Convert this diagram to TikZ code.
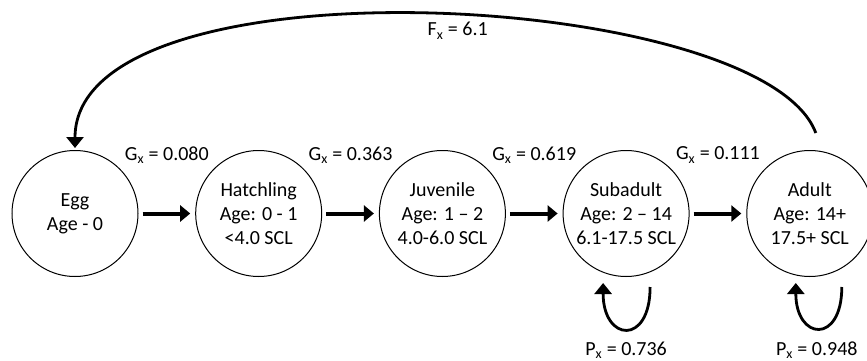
\documentclass[tikz,border=0pt]{standalone}
\usepackage{fontspec}
\setmainfont{Carlito}
\usetikzlibrary{arrows.meta, positioning, calc}

\begin{document}
\begin{tikzpicture}[
    node distance=56.7pt,
    stage/.style={circle, draw=black, line width=1pt, minimum size=126pt, inner sep=0pt, align=center, font=\fontsize{20}{24}\selectfont},
    rate/.style={font=\fontsize{20}{24}\selectfont, inner sep=2pt},
    growarrow/.style={-{Triangle[length=10pt, width=16pt]}, line width=4pt, shorten <=4pt, shorten >=5pt},
    looparrow/.style={-{Triangle[length=11pt, width=17pt]}, line width=2.8pt},
  ]
  \useasboundingbox (0,0) rectangle (867pt,-361pt);

  % life stages
  \node[stage] (egg) at (75pt,-213.5pt) {Egg\\Age - 0};
  \node[stage, right=of egg] (hatch) {Hatchling\\Age: 0 - 1\\<4.0 SCL};
  \node[stage, right=of hatch] (juv) {Juvenile\\Age: 1 – 2\\4.0-6.0 SCL};
  \node[stage, right=of juv] (sub) {Subadult\\Age: 2 – 14\\6.1-17.5 SCL};
  \node[stage, right=of sub] (adult) {Adult\\Age: 14+\\17.5+ SCL};

  % growth
  \draw[growarrow] (egg.east) -- (hatch.west);
  \draw[growarrow] (hatch.east) -- (juv.west);
  \draw[growarrow] (juv.east) -- (sub.west);
  \draw[growarrow] (sub.east) -- (adult.west);

  \node[rate] (g1) at ($(egg)!0.5!(hatch)+(0,58.5pt)$) {G\textsubscript{x} = 0.080};
  \node[rate] (g2) at ($(hatch)!0.5!(juv)+(0,58.5pt)$) {G\textsubscript{x} = 0.363};
  \node[rate] (g3) at ($(juv)!0.5!(sub)+(0,58.5pt)$) {G\textsubscript{x} = 0.619};
  \node[rate] (g4) at ($(sub)!0.5!(adult)+(0,58.5pt)$) {G\textsubscript{x} = 0.111};

  % fecundity
  \draw[looparrow] ([xshift=6pt,yshift=17pt]adult.north) .. controls ($(adult.north)+(-47pt,160pt)$) and ($(egg.north)+(0,196pt)$) .. node[rate, pos=0.47, below=4pt] (fx) {F\textsubscript{x} = 6.1} ([yshift=2pt]egg.north);

  % persistence
  \draw[looparrow] ([xshift=24pt,yshift=-10pt]sub.south) to[out=-90, in=-90, looseness=3.2] ([xshift=-23pt,yshift=-6pt]sub.south);
  \draw[looparrow] ([xshift=32pt,yshift=-10pt]adult.south) to[out=-90, in=-90, looseness=3.2] ([xshift=-14pt,yshift=-6pt]adult.south);

  \node[rate] (p1) at ($(sub.south)+(0,-73.5pt)$) {P\textsubscript{x} = 0.736};
  \node[rate] (p2) at ($(adult.south)+(7pt,-73.5pt)$) {P\textsubscript{x} = 0.948};
\end{tikzpicture}
\end{document}
